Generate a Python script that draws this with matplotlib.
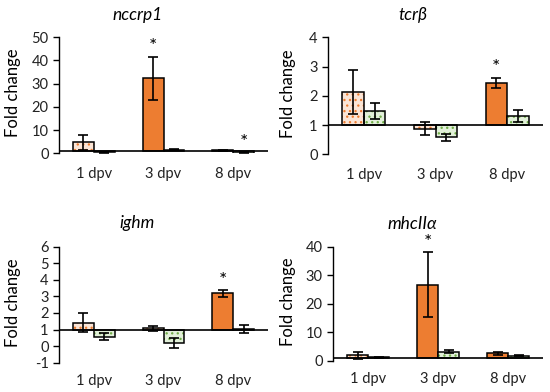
import matplotlib
matplotlib.use("Agg")
import matplotlib.pyplot as plt
import numpy as np

plt.rcParams['font.family'] = ['Lato', 'DejaVu Sans']
plt.rcParams['hatch.linewidth'] = 0.9
plt.rcParams['axes.unicode_minus'] = False

# Data: fold change relative to control (baseline 1)
days = ['1 dpv', '3 dpv', '8 dpv']
genes = ['nccrp1', 'tcr\u03b2', 'ighm', 'mhcII\u03b1']

nccrp1_s1 = [4.7, 32.2, 1.3]
nccrp1_s1_err = [3.2, 9.3, 0.1]
nccrp1_s2 = [0.4, 1.5, 0.3]
nccrp1_s2_err = [0.1, 0.2, 0.1]

tcrb_s1 = [2.13, 0.88, 2.44]
tcrb_s1_err = [0.75, 0.22, 0.18]
tcrb_s2 = [1.48, 0.58, 1.31]
tcrb_s2_err = [0.26, 0.12, 0.22]

ighm_s1 = [1.42, 1.08, 3.19]
ighm_s1_err = [0.58, 0.15, 0.2]
ighm_s2 = [0.56, 0.18, 1.05]
ighm_s2_err = [0.22, 0.3, 0.25]

mhc_s1 = [2.0, 26.7, 2.7]
mhc_s1_err = [1.3, 11.4, 0.6]
mhc_s2 = [1.3, 3.3, 1.9]
mhc_s2_err = [0.2, 0.5, 0.3]

# solid fill flags (series 1), star flags
nccrp1_solid = [False, True, False]
tcrb_solid = [False, False, True]
ighm_solid = [False, False, True]
mhc_solid = [False, True, True]

nccrp1_star1 = [False, True, False]
nccrp1_star2 = [False, False, True]
tcrb_star1 = [False, False, True]
tcrb_star2 = [False, False, False]
ighm_star1 = [False, False, True]
ighm_star2 = [False, False, False]
mhc_star1 = [False, True, False]
mhc_star2 = [False, False, False]

ylims = [(0, 50), (0, 4), (-1, 6), (0, 40)]
yticks = [np.arange(0, 51, 10), np.arange(0, 5, 1), np.arange(-1, 7, 1), np.arange(0, 41, 10)]

ORANGE = '#ED7D31'
PEACH = '#FBE5D6'
LGREEN = '#E2F0D9'
GREEN = '#70AD47'

fig = plt.figure(figsize=(5.5, 3.92), dpi=100)
W, H = 550.0, 392.0

# axes boxes in pixels: left, right, top, bottom
boxes = [(59, 268, 37, 153.3), (328, 543, 37.3, 154.3),
         (59, 268, 246.7, 362.7), (333, 543, 246.7, 361)]

panels = [
    (nccrp1_s1, nccrp1_s1_err, nccrp1_s2, nccrp1_s2_err, nccrp1_solid, nccrp1_star1, nccrp1_star2),
    (tcrb_s1, tcrb_s1_err, tcrb_s2, tcrb_s2_err, tcrb_solid, tcrb_star1, tcrb_star2),
    (ighm_s1, ighm_s1_err, ighm_s2, ighm_s2_err, ighm_solid, ighm_star1, ighm_star2),
    (mhc_s1, mhc_s1_err, mhc_s2, mhc_s2_err, mhc_solid, mhc_star1, mhc_star2),
]

title_pos = [(0.25, 15), (0.75, 15), (0.25, 223), (0.75, 224)]
ylab_x = [13, 288, 13, 288]

x = np.arange(len(days))
bw = 0.3

for i, (s1, e1, s2, e2, solid, st1, st2) in enumerate(panels):
    l, r, t, b = boxes[i]
    ax = fig.add_axes([l / W, 1 - b / H, (r - l) / W, (b - t) / H])
    ax.set_xlim(-0.5, 2.5)
    ax.set_ylim(*ylims[i])
    ax.set_yticks(yticks[i])

    s1 = np.array(s1)
    s2 = np.array(s2)
    x1 = x - bw / 2
    x2 = x + bw / 2
    for j in range(len(days)):
        if solid[j]:
            ax.bar(x1[j], s1[j] - 1, bw, bottom=1, color=ORANGE, edgecolor='black', linewidth=1.1, zorder=2)
        else:
            ax.bar(x1[j], s1[j] - 1, bw, bottom=1, color=PEACH, edgecolor=ORANGE, hatch='...', linewidth=0, zorder=2)
            ax.bar(x1[j], s1[j] - 1, bw, bottom=1, color='none', edgecolor='black', linewidth=1.1, zorder=3)
    ax.bar(x2, s2 - 1, bw, bottom=1, color=LGREEN, edgecolor=GREEN, hatch='...', linewidth=0, zorder=2)
    ax.bar(x2, s2 - 1, bw, bottom=1, color='none', edgecolor='black', linewidth=1.1, zorder=3)

    ax.errorbar(x1, s1, yerr=e1, fmt='none', ecolor='black', elinewidth=1.2, capsize=3.5, capthick=1.2, zorder=4)
    ax.errorbar(x2, s2, yerr=e2, fmt='none', ecolor='black', elinewidth=1.2, capsize=3.5, capthick=1.2, zorder=4)

    for j in range(len(days)):
        if st1[j]:
            ax.annotate('*', (x1[j], s1[j] + e1[j]), xytext=(0, 1), textcoords='offset points',
                        ha='center', va='bottom', fontsize=14)
        if st2[j]:
            ax.annotate('*', (x2[j], s2[j] + e2[j]), xytext=(0, 1), textcoords='offset points',
                        ha='center', va='bottom', fontsize=14)

    ax.axhline(1, color='black', linewidth=1.2, zorder=5)

    for side in ['top', 'right', 'bottom']:
        ax.spines[side].set_visible(False)
    ax.spines['left'].set_linewidth(1.0)
    ax.set_xticks(x)
    ax.set_xticklabels(days)
    ax.tick_params(axis='x', length=0, pad=10 if i < 2 else 8, labelsize=10.5)
    ax.tick_params(axis='y', length=4, width=1.0, labelsize=10.5)
    for lab in ax.get_xticklabels() + ax.get_yticklabels():
        lab.set_color('#222222')

    fig.text(title_pos[i][0], 1 - title_pos[i][1] / H, genes[i], ha='center', va='center',
             fontsize=12.5, style='italic')
    fig.text(ylab_x[i] / W, 1 - ((t + b) / 2 - 2) / H, 'Fold change', rotation=90,
             ha='center', va='center', fontsize=12)

fig.savefig('out.png', dpi=100)
